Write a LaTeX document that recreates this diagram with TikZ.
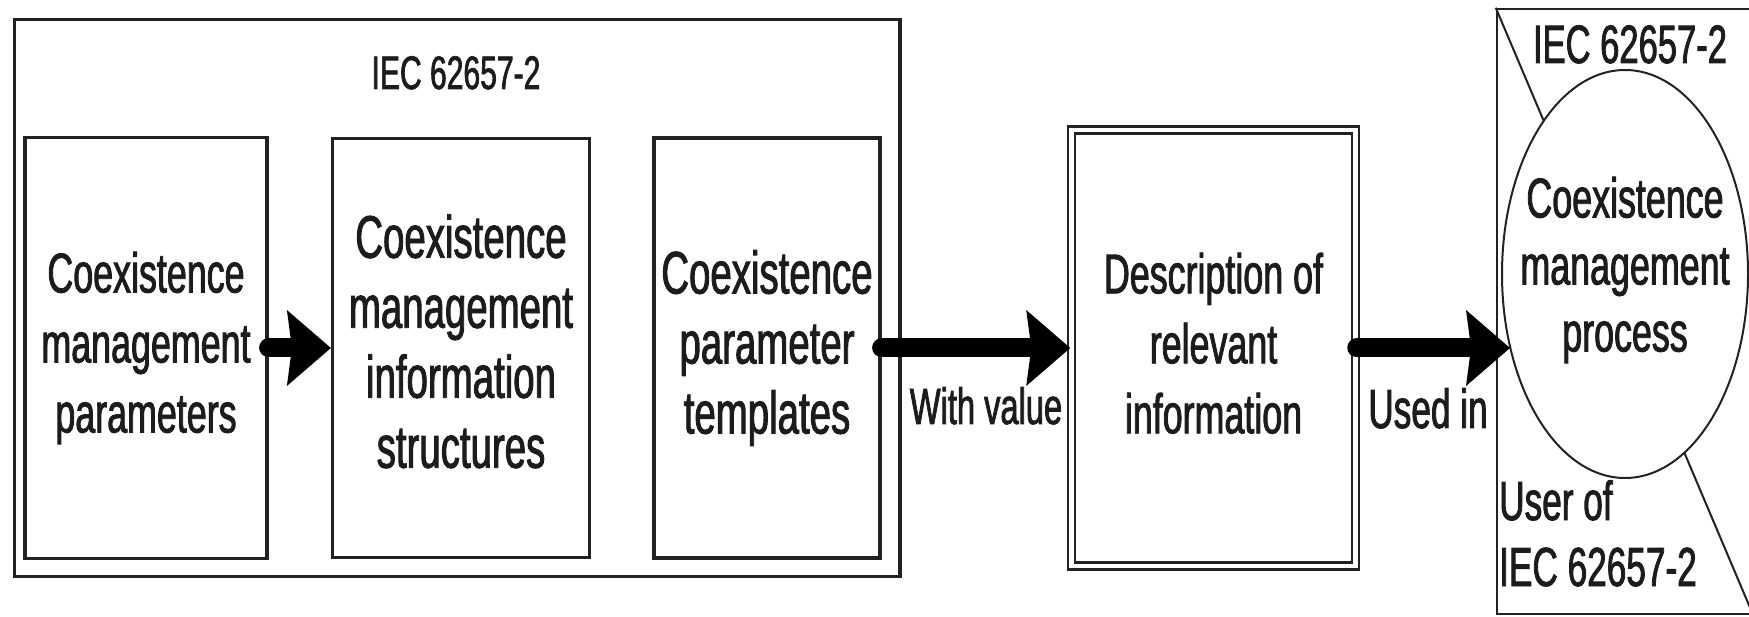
\documentclass[tikz,border=0pt]{standalone}
\usepackage{fontspec}
\setmainfont{Liberation Sans}[FakeStretch=0.64, FakeBold=1.5]
\usetikzlibrary{arrows.meta,shapes.geometric}
\definecolor{linegray}{HTML}{222222}
\definecolor{textgray}{HTML}{1c1c1c}
\newcommand\fsz[2]{\fontsize{#1}{#2}\selectfont}
\tikzset{
  box/.style={draw=linegray, line width=3.2pt, inner sep=0pt, align=center, text=textgray},
  bigarrow/.style={draw=black, line width=19pt, line cap=round,
    -{Stealth[length=44pt,width=76pt,inset=5pt,line width=0pt]}},
  lbl/.style={inner sep=0pt, anchor=base, text=textgray},
}
\begin{document}
\begin{tikzpicture}[x=1pt,y=-1pt]
\useasboundingbox (0,0) rectangle (1749,617);
% left group
\node[box, minimum width=885.5pt, minimum height=557pt] (outer) at (457.25,298) {};
\node[lbl, font=\fsz{47}{56}] (t1) at (456,89) {IEC 62657-2};
\node[box, minimum width=242pt, minimum height=421pt, font=\fsz{56}{70}] (b1) at (146,348) {Coexistence\\management\\parameters};
\node[box, minimum width=257pt, minimum height=419pt, font=\fsz{60}{70}, text depth=14pt] (b2) at (461,348) {Coexistence\\management\\information\\structures};
\node[box, minimum width=226pt, minimum height=420pt, font=\fsz{60}{70}] (b3) at (767,348) {Coexistence\\parameter\\templates};
% description box
\node[box, double, double distance=4.5pt, line width=2.5pt, minimum width=284pt, minimum height=436pt, font=\fsz{56}{70}, text depth=10pt] (desc) at (1213.5,348) {Description of\\relevant\\information};
% right part
\node[draw=linegray, line width=2.5pt, minimum width=255pt, minimum height=605pt, inner sep=0pt] (usr) at (1624.5,311.5) {};
\draw[draw=linegray, line width=2pt] (usr.north west) -- (usr.south east);
\node[ellipse, draw=linegray, fill=white, line width=2pt, minimum width=246pt, minimum height=408pt, inner sep=0pt] (proc) at (1625,274) {};
\node[inner sep=0pt, align=center, text=textgray, font=\fsz{56}{67}] (proctext) at (1625,270) {Coexistence\\management\\process};
\node[lbl, font=\fsz{54}{60}] (t2) at (1630,63) {IEC 62657-2};
\node[lbl, anchor=base west, font=\fsz{55}{66}] (u1) at (1499,520) {User of};
\node[lbl, anchor=base west, font=\fsz{55}{66}] (u2) at (1499,586) {IEC 62657-2};
% arrows
\coordinate (tip3) at (1510,348);
\draw[bigarrow] (b1.east) -- (b2.west);
\draw[bigarrow] (b3.east) -- (desc.west);
\draw[bigarrow] (desc.east) -- (tip3);
\node[lbl, font=\fsz{51}{60}] (wv) at (986,424) {With value};
\node[lbl, font=\fsz{55}{60}] (ui) at (1428,428) {Used in};
\end{tikzpicture}
\end{document}
